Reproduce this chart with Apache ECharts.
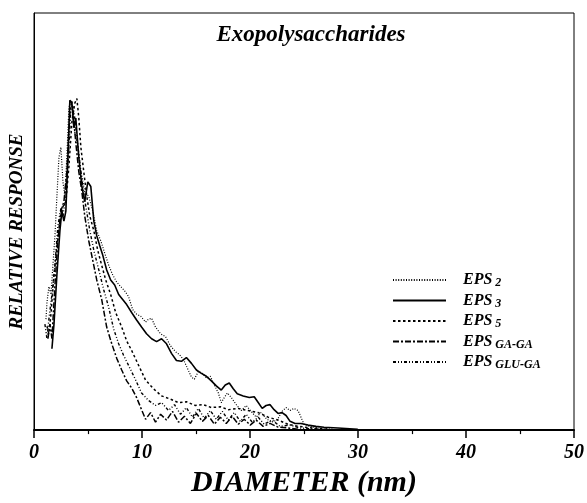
<!DOCTYPE html>
<html>
<head>
<meta charset="utf-8">
<script src="https://cdn.jsdelivr.net/npm/echarts@6/dist/echarts.min.js"></script>
<style>html,body{margin:0;padding:0;background:#fff}#c{width:587px;height:503px}</style>
</head>
<body>
<div id="c"></div>
<script>
// Series data: [diameter (nm), relative response]
const eps2 = [[1.11,26.6],[1.20,30.6],[1.38,34.4],[1.57,32.5],[1.75,39.5],[1.94,46.6],[2.12,56.0],[2.31,65.4],[2.49,67.8],[2.68,59.5],[2.86,56.0],[3.04,65.4],[3.23,77.2],[3.41,79.1],[3.60,76.0],[3.78,71.3],[4.06,67.8],[4.34,61.9],[4.70,57.2],[5.07,56.0],[5.44,52.5],[5.81,47.8],[6.18,45.4],[6.55,42.4],[6.92,39.5],[7.29,37.2],[7.66,35.5],[8.03,34.4],[8.39,33.4],[8.76,32.0],[9.13,28.9],[9.50,27.8],[9.87,27.3],[10.33,25.9],[10.61,26.6],[10.89,26.8],[11.25,24.7],[11.72,23.1],[12.18,22.4],[12.64,20.2],[13.10,18.8],[13.47,18.1],[13.84,16.9],[14.21,14.8],[14.58,12.7],[14.85,12.2],[15.22,14.1],[15.59,13.6],[15.96,12.5],[16.33,12.9],[16.70,10.8],[17.07,8.9],[17.34,6.6],[17.62,7.8],[17.90,8.9],[18.27,7.8],[18.73,6.1],[19.19,4.7],[19.65,5.9],[20.11,4.5],[20.57,3.1],[21.03,4.2],[21.49,2.8],[21.96,1.9],[22.51,2.4],[22.97,4.5],[23.34,5.4],[23.71,4.7],[24.08,5.2],[24.45,4.7],[24.72,3.1],[25.00,1.4],[25.55,0.9],[26.29,0.5],[27.68,0.2]];
const eps3 = [[1.66,19.5],[1.85,25.4],[2.12,37.2],[2.40,47.8],[2.58,52.5],[2.77,50.1],[2.95,52.5],[3.14,65.4],[3.32,79.1],[3.51,78.4],[3.69,72.5],[3.87,74.8],[4.15,65.4],[4.43,58.4],[4.70,54.8],[4.98,59.5],[5.26,58.4],[5.54,50.1],[5.81,46.6],[6.09,44.2],[6.37,41.9],[6.73,38.4],[7.10,36.0],[7.47,34.8],[7.84,32.5],[8.21,31.3],[8.58,30.1],[9.04,28.2],[9.50,26.4],[9.96,24.7],[10.42,23.1],[10.89,21.9],[11.35,21.2],[11.81,21.9],[12.27,20.7],[12.73,18.4],[13.19,16.7],[13.65,16.5],[14.11,17.4],[14.58,16.0],[15.04,14.4],[15.50,13.6],[15.96,12.9],[16.42,11.8],[16.88,10.6],[17.34,9.6],[17.71,10.8],[18.08,11.3],[18.45,9.9],[18.82,8.7],[19.37,8.2],[19.93,7.8],[20.39,8.0],[20.76,6.6],[21.13,5.2],[21.49,5.9],[21.86,6.1],[22.23,4.9],[22.60,4.0],[22.97,4.2],[23.34,3.5],[23.71,2.1],[24.17,1.6],[24.72,1.6],[25.37,1.2],[26.11,0.9],[26.85,0.7],[28.14,0.5],[29.98,0.2]];
const eps5 = [[1.20,24.9],[1.38,23.1],[1.57,27.8],[1.85,37.2],[2.12,44.2],[2.40,50.1],[2.68,53.6],[2.95,54.8],[3.23,63.1],[3.51,73.9],[3.78,78.4],[3.97,79.5],[4.15,74.8],[4.34,67.8],[4.61,61.9],[4.89,56.0],[5.17,51.3],[5.54,47.8],[5.90,43.1],[6.27,39.5],[6.64,36.0],[7.10,32.5],[7.56,28.2],[8.12,24.7],[8.58,21.4],[9.04,19.1],[9.69,15.5],[10.33,12.0],[11.07,9.9],[11.81,8.2],[12.55,7.5],[13.38,6.6],[14.11,6.8],[14.94,5.9],[15.68,6.1],[16.42,5.4],[17.25,5.6],[17.99,4.9],[18.91,5.2],[19.83,4.7],[20.76,4.2],[21.68,3.1],[22.60,2.4],[23.52,1.4],[24.45,0.9],[25.83,0.5],[27.21,0.2]];
const epsGaGa = [[1.29,21.9],[1.48,25.4],[1.66,21.9],[1.94,34.8],[2.21,45.4],[2.49,52.5],[2.77,54.8],[3.04,61.9],[3.32,76.0],[3.51,78.8],[3.69,73.9],[3.87,68.9],[4.15,61.9],[4.43,57.2],[4.70,51.3],[5.07,45.4],[5.44,40.7],[5.81,36.0],[6.27,31.3],[6.73,24.7],[7.20,20.7],[7.66,17.2],[8.12,14.4],[8.58,11.8],[9.04,10.1],[9.50,7.8],[9.96,4.9],[10.33,2.6],[10.79,4.2],[11.25,1.9],[11.72,3.8],[12.27,2.4],[12.82,4.5],[13.38,1.9],[13.93,3.3],[14.48,1.6],[15.04,4.0],[15.59,2.1],[16.14,3.5],[16.70,1.4],[17.25,3.1],[17.80,1.6],[18.36,3.3],[18.91,1.4],[19.47,2.6],[20.02,1.2],[20.57,2.4],[21.22,0.9],[21.86,1.6],[22.60,0.7],[23.52,0.5],[24.45,0.2]];
const epsGluGa = [[1.01,25.4],[1.20,21.9],[1.38,26.6],[1.66,32.5],[1.94,39.5],[2.21,48.9],[2.49,53.2],[2.68,51.3],[2.95,56.0],[3.23,67.8],[3.41,76.9],[3.60,77.6],[3.78,74.8],[3.97,70.1],[4.24,64.2],[4.52,58.4],[4.80,53.6],[5.17,47.8],[5.54,43.1],[6.00,38.4],[6.46,33.6],[6.92,29.4],[7.38,24.2],[7.84,20.7],[8.30,17.9],[8.76,15.5],[9.41,12.0],[9.96,8.9],[10.61,7.1],[11.25,5.9],[11.81,6.6],[12.45,4.7],[13.01,6.1],[13.56,3.8],[14.11,5.4],[14.67,3.1],[15.22,5.2],[15.77,2.8],[16.33,4.7],[16.88,2.6],[17.44,4.5],[17.99,2.4],[18.54,4.2],[19.10,2.1],[19.65,3.8],[20.20,1.9],[20.76,3.1],[21.31,1.4],[22.05,2.4],[22.79,0.9],[23.71,1.2],[24.63,0.5],[26.29,0.2]];

const seriesNames = ['EPS2','EPS3','EPS5','EPSGA-GA','EPSGLU-GA'];
const legendBase = 'EPS';
const legendSubs = ['2','3','5','GA-GA','GLU-GA'];
const titleText = 'Exopolysaccharides';
const xAxisTitle = 'DIAMETER (nm)';
const yAxisTitle = 'RELATIVE RESPONSE';
const xTicks = [0,10,20,30,40,50];

const SERIF = '"Liberation Serif","Times New Roman",serif';
const dataSets = [eps2, eps3, eps5, epsGaGa, epsGluGa];
const styles = [
  {type:[1,1.6], width:1.2},
  {type:'solid', width:1.6},
  {type:[2.5,2.5], width:1.5},
  {type:[6,2,2,2], width:1.5},
  {type:[3,2,1,2,1,2], width:1.4}
];

const chart = echarts.init(document.getElementById('c'), null, {renderer:'canvas'});
chart.setOption({
  animation:false,
  backgroundColor:'#fff',
  title:{
    text:titleText, left:306, top:19, textAlign:'center',
    textStyle:{fontFamily:SERIF, fontSize:23, fontWeight:'bold', fontStyle:'italic', color:'#000'}
  },
  grid:{left:34, right:9, top:13, bottom:65, show:true, borderColor:'#000', borderWidth:1, backgroundColor:'transparent'},
  legend:{
    orient:'vertical', left:392, top:272, padding:0, itemWidth:53, itemHeight:12, itemGap:3.5,
    data:seriesNames,
    itemStyle:{opacity:0},
    formatter:function(name){
      const i = seriesNames.indexOf(name);
      return '{m|' + legendBase + '}{s| ' + legendSubs[i] + '}';
    },
    textStyle:{
      padding:[0,0,0,12],
      rich:{
        m:{fontFamily:SERIF, fontSize:16, fontWeight:'bold', fontStyle:'italic', color:'#000', lineHeight:18},
        s:{fontFamily:SERIF, fontSize:12, fontWeight:'bold', fontStyle:'italic', color:'#000', lineHeight:18, verticalAlign:'bottom'}
      }
    }
  },
  xAxis:{
    type:'value', min:xTicks[0], max:xTicks[xTicks.length-1], interval:10,
    name:xAxisTitle, nameLocation:'middle', nameGap:33,
    nameTextStyle:{fontFamily:SERIF, fontSize:30, fontWeight:'bold', fontStyle:'italic', color:'#000'},
    axisLine:{show:true, lineStyle:{color:'#000', width:2}},
    axisTick:{show:true, inside:false, length:8, lineStyle:{color:'#000', width:1.5}},
    minorTick:{show:true, splitNumber:2, length:4, lineStyle:{color:'#000', width:1.2}},
    axisLabel:{margin:13, fontFamily:SERIF, fontSize:20, fontWeight:'bold', fontStyle:'italic', color:'#000'},
    splitLine:{show:false}, minorSplitLine:{show:false}
  },
  yAxis:{
    type:'value', min:0, max:100,
    name:yAxisTitle, nameLocation:'middle', nameGap:7, nameRotate:90,
    nameTextStyle:{fontFamily:SERIF, fontSize:19, fontWeight:'bold', fontStyle:'italic', color:'#000', padding:[0,20,0,0]},
    axisLine:{show:true, lineStyle:{color:'#000', width:1}},
    axisTick:{show:false}, axisLabel:{show:false}, splitLine:{show:false}
  },
  series:dataSets.map(function(d,i){
    return {
      name:seriesNames[i], type:'line', data:d, symbol:'none', showSymbol:false,
      lineStyle:{color:'#000', type:styles[i].type, width:styles[i].width},
      itemStyle:{color:'#000'}
    };
  })
});
</script>
</body>
</html>
